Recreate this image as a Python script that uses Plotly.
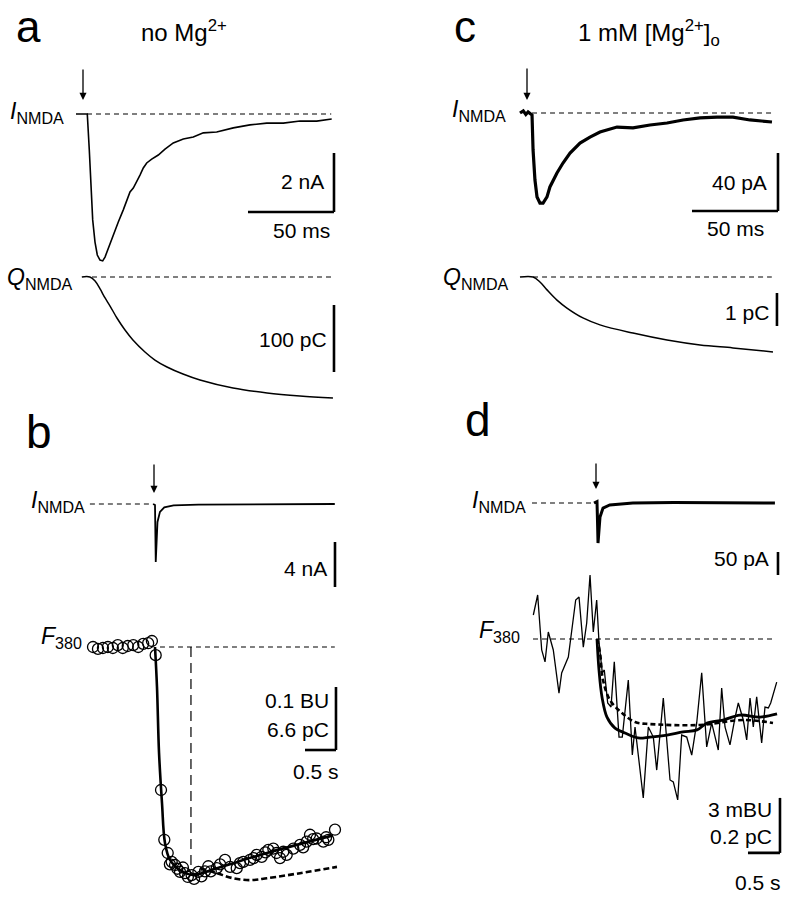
import plotly.graph_objects as go

W, H = 791, 899
FONT = "Liberation Sans, Arial, Helvetica, sans-serif"

# ---------------- Panel a : no Mg2+ (time ms, current nA, charge pC) ----------------
a_I_t = [-6.4, 0.17, 1.34, 2.15, 3.31, 4.65, 5.99, 7.56, 9.13, 10.47, 12.38, 14.36, 16.28,
         18.2, 21.1, 23.08, 25.0, 26.92, 28.9, 30.81, 32.73, 34.71, 37.62, 41.45, 45.35,
         50.17, 55.99, 61.8, 67.62, 75.41, 85.06, 94.77, 104.48, 114.13, 123.84, 133.55, 142.27]
a_I = [0, 0, -1.22, -2.47, -3.59, -4.34, -4.78, -4.95, -4.98, -4.85, -4.54, -4.27, -3.93,
       -3.66, -3.25, -2.92, -2.64, -2.51, -2.31, -2.07, -1.83, -1.66, -1.53, -1.39, -1.19,
       -0.98, -0.85, -0.78, -0.64, -0.61, -0.47, -0.37, -0.31, -0.31, -0.24, -0.24, -0.17]
a_Q_t = [-3.0, 1.7, 4.7, 7.6, 10.5, 13.4, 17.4, 22.1, 26.7, 33.7, 39.5, 46.5, 55.8, 65.7,
         84.9, 104.7, 123.8, 143.0]
a_Q = [0, 0, -6.0, -17.9, -31.3, -43.3, -61.2, -79.1, -94.0, -111.9, -123.9, -134.3,
       -144.8, -153.7, -165.7, -173.1, -177.6, -180.6]

# ---------------- Panel c : 1 mM Mg2+ (time ms, current pA, charge pC) ----------------
c_I_t = [-6.4, -4.5, -3.0, -1.7, 0.6, 1.2, 2.3, 3.5, 5.2, 7.0, 9.3, 11.0, 15.1, 18.6, 22.7,
         28.5, 34.3, 40.1, 50.0, 59.3, 69.2, 79.1, 88.4, 98.3, 108.1, 117.4, 127.3, 140.1]
c_I = [0, 1.5, -1.0, 0.7, -1.4, -25.5, -46.2, -57.9, -62.1, -62.1, -57.9, -51.0, -41.4,
       -34.5, -27.6, -20.7, -16.6, -13.1, -9.7, -10.3, -8.3, -6.9, -4.8, -3.4, -2.8, -2.8,
       -4.8, -6.2]
c_Q_t = [-6.4, 1.2, 5.2, 9.3, 15.1, 20.9, 30.2, 40.1, 59.3, 79.1, 98.3, 117.4, 140.7]
c_Q = [0, 0, -0.15, -0.39, -0.70, -0.94, -1.24, -1.45, -1.70, -1.91, -2.06, -2.15, -2.27]

# ---------------- Panel b : no Mg2+, slow time base (s), nA, BU ----------------
b_I_t = [-0.03, 0.0, 0.012, 0.04, 0.08, 0.15, 0.3, 0.7, 2.9]
b_I = [0, -0.09, -5.16, -1.6, -0.7, -0.3, -0.12, -0.05, 0]
b_F_t = [-1.0, -0.92, -0.84, -0.76, -0.68, -0.60, -0.52, -0.44, -0.35, -0.27, -0.19, -0.11,
         -0.05, 0.011, 0.097, 0.15, 0.205, 0.24, 0.269, 0.323, 0.36, 0.403, 0.45, 0.484,
         0.53, 0.59, 0.63, 0.70, 0.75, 0.806, 0.86, 0.90, 0.995, 1.05, 1.129, 1.21, 1.318,
         1.37, 1.424, 1.532, 1.59, 1.64, 1.721, 1.78, 1.828, 1.908, 1.96, 2.016, 2.07, 2.124,
         2.231, 2.339, 2.39, 2.447, 2.5, 2.55, 2.608, 2.715, 2.76, 2.796, 2.903]
b_F = [0, -0.003, -0.0016, 0, -0.0016, 0.003, -0.0016, 0.0016, 0.003, 0, 0.005, 0.006,
       0.0095, -0.013, -0.227, -0.306, -0.327, -0.345, -0.341, -0.346, -0.352, -0.357,
       -0.35, -0.359, -0.365, -0.362, -0.368, -0.357, -0.364, -0.356, -0.348, -0.356,
       -0.351, -0.345, -0.338, -0.349, -0.351, -0.343, -0.341, -0.338, -0.335, -0.330,
       -0.333, -0.326, -0.322, -0.320, -0.327, -0.335, -0.325, -0.330, -0.320, -0.314,
       -0.318, -0.309, -0.298, -0.305, -0.304, -0.309, -0.302, -0.306, -0.290]
b_fit_t = [0, 0.032, 0.065, 0.113, 0.161, 0.242, 0.403, 0.613, 1.0, 1.806, 2.871]
b_fit = [0, -0.063, -0.168, -0.248, -0.311, -0.338, -0.354, -0.362, -0.351, -0.327, -0.299]
b_Q_t = [0.726, 1.0, 1.258, 1.532, 1.806, 2.339, 2.935]
b_Q = [-0.351, -0.359, -0.367, -0.370, -0.367, -0.359, -0.349]
b_peak_t = 0.58
b_peak_F = -0.346

# ---------------- Panel d : 1 mM Mg2+, slow time base (s), pA, mBU ----------------
d_I_t = [-0.047, 0.0, 0.008, 0.016, 0.047, 0.094, 0.2, 0.56, 1.2, 2.0, 2.78]
d_I = [0, 3.0, -40.0, -87.0, -30.4, -10.9, -4.3, 0, 1.0, 0, 0]
d_F_t = [-0.995, -0.927, -0.864, -0.812, -0.761, -0.683, -0.594, -0.552, -0.448, -0.333,
         -0.281, -0.214, -0.161, -0.109, -0.058, -0.005, 0.031, 0.083, 0.114, 0.167, 0.219,
         0.27, 0.344, 0.395, 0.489, 0.552, 0.594, 0.723, 0.802, 0.88, 0.933, 1.036, 1.141,
         1.192, 1.261, 1.323, 1.402, 1.48, 1.558, 1.636, 1.714, 1.792, 1.895, 1.948, 2.0,
         2.078, 2.156, 2.208, 2.286, 2.339, 2.391, 2.442, 2.495, 2.573, 2.625, 2.677, 2.714,
         2.808]
d_F = [1.31, 2.40, -0.60, -1.25, 0.38, -0.60, -2.95, -1.85, -0.98, 2.13, 2.29, -0.44, 0.87,
       3.49, 0.38, 2.13, -0.16, -1.85, -1.69, -3.49, -3.71, -1.25, -5.35, -5.35, -2.24,
       -6.33, -4.80, -8.67, -4.80, -5.35, -7.15, -3.22, -7.69, -7.80, -8.78, -5.24, -5.35,
       -6.33, -4.58, -1.85, -5.89, -4.58, -6.06, -2.67, -4.80, -5.78, -4.31, -3.49, -4.42,
       -5.51, -3.22, -4.80, -3.16, -5.67, -3.71, -3.76, -3.49, -2.35]
d_fit_t = [0, 0.031, 0.078, 0.156, 0.281, 0.4375, 0.641, 0.828, 1.094, 1.344, 1.5625,
           1.719, 1.969, 2.234, 2.547, 2.813]
d_fit = [0, -1.69, -3.16, -4.26, -4.86, -5.13, -5.40, -5.35, -5.24, -5.07, -4.96, -4.58,
         -4.42, -4.15, -4.26, -4.09]
d_Q_t = [0, 0.047, 0.094, 0.203, 0.391, 0.594, 0.828, 1.609, 2.281, 2.75]
d_Q = [0, -0.76, -2.24, -3.33, -4.04, -4.53, -4.64, -4.69, -4.42, -4.58]

# scale bar sizes
SB = dict(a_t=50, a_i=2, a_q=100, c_t=50, c_i=40, c_q=1, b_t=0.5, b_i=4, b_f=0.1,
          d_t=0.5, d_i=50, d_f=3)

fig = go.Figure()
layout_axes = {}


def make_axes(idx, box, x0, sx, y0, sy):
    px0, px1, py0, py1 = box
    xs = "" if idx == 1 else str(idx)
    layout_axes["xaxis" + xs] = dict(domain=[px0 / W, px1 / W],
                                     range=[(px0 - x0) / sx, (px1 - x0) / sx],
                                     visible=False, fixedrange=True, anchor="y" + xs)
    layout_axes["yaxis" + xs] = dict(domain=[1 - py1 / H, 1 - py0 / H],
                                     range=[(y0 - py1) / sy, (y0 - py0) / sy],
                                     visible=False, fixedrange=True, anchor="x" + xs)
    return ("x" + xs, "y" + xs)


axA_I = make_axes(1, (0, 395, 55, 272), 87, 1.72, 114, 29.5)
axA_Q = make_axes(2, (0, 395, 262, 420), 87, 1.72, 277, 0.67)
axC_I = make_axes(3, (400, 791, 55, 272), 531, 1.72, 113, 1.45)
axC_Q = make_axes(4, (400, 791, 262, 420), 531, 1.72, 277, 33)
axB_I = make_axes(5, (0, 395, 455, 600), 155, 62, 504, 11.25)
axB_F = make_axes(6, (0, 395, 600, 899), 155, 62, 647, 630)
axD_I = make_axes(7, (400, 791, 455, 600), 597, 64, 503, 0.46)
axD_F = make_axes(8, (400, 791, 565, 899), 597, 64, 639, 18.33)


def line(ax, x, y, width=1.3, dash=None, shape="linear"):
    fig.add_trace(go.Scatter(x=x, y=y, mode="lines",
                             line=dict(color="black", width=width, dash=dash, shape=shape),
                             xaxis=ax[0], yaxis=ax[1], hoverinfo="skip", showlegend=False))


shapes = []


def bar(ax, x0, y0, x1, y1, w=2.6):
    shapes.append(dict(type="line", xref=ax[0], yref=ax[1], x0=x0, y0=y0, x1=x1, y1=y1,
                       line=dict(color="black", width=w)))


annotations = []


def text(px, py, s, size=20, xanchor="right", yanchor="middle"):
    annotations.append(dict(x=px / W, y=1 - py / H, xref="paper", yref="paper", text=s,
                            showarrow=False, xanchor=xanchor, yanchor=yanchor,
                            font=dict(family=FONT, size=size, color="black")))


def arrow(px, py, length=31):
    annotations.append(dict(x=px / W, y=1 - py / H, xref="paper", yref="paper", text="",
                            showarrow=True, ax=0, ay=-length, arrowhead=2, arrowsize=1.1,
                            arrowwidth=1.3, arrowcolor="black"))


DASH = "5px,4px"

# ---- panel a ----
line(axA_I, [0, 142], [0, 0], 1.2, DASH)
line(axA_I, a_I_t, a_I, 1.6)
line(axA_Q, [2.9, 143], [0, 0], 1.2, DASH)
line(axA_Q, a_Q_t, a_Q, 1.5, shape="spline")
tx, iy = 143.6, -1.322
bar(axA_I, tx, iy, tx, iy - SB["a_i"])
bar(axA_I, tx - SB["a_t"], iy - SB["a_i"], tx, iy - SB["a_i"])
bar(axA_Q, tx, -41.8, tx, -41.8 - SB["a_q"])

# ---- panel c ----
line(axC_I, [0.6, 140], [0, 0], 1.2, DASH)
line(axC_I, c_I_t, c_I, 3.2)
line(axC_Q, [1.2, 140], [0, 0], 1.2, DASH)
line(axC_Q, c_Q_t, c_Q, 1.5, shape="spline")
tx, iy = 143.6, -27.6
bar(axC_I, tx, iy, tx, iy - SB["c_i"])
bar(axC_I, tx - SB["c_t"], iy - SB["c_i"], tx, iy - SB["c_i"])
bar(axC_Q, 143.0, -0.485, 143.0, -0.485 - SB["c_q"])

# ---- panel b ----
line(axB_I, [-1.05, -0.03], [0, 0], 1.2, DASH)
line(axB_I, b_I_t, b_I, 1.8)
line(axB_F, [0.08, 2.9], [0, 0], 1.2, DASH)
line(axB_F, [b_peak_t, b_peak_t], [0, b_peak_F], 1.2, "10px,6px")
line(axB_F, b_Q_t, b_Q, 2.6, "6px,3px", shape="spline")
fig.add_trace(go.Scatter(x=b_F_t, y=b_F, mode="markers",
                         marker=dict(symbol="circle-open", size=11, color="black",
                                     line=dict(width=1.3, color="black")),
                         xaxis=axB_F[0], yaxis=axB_F[1], hoverinfo="skip", showlegend=False))
line(axB_F, b_fit_t, b_fit, 2.6, shape="spline")
bar(axB_I, 2.903, -3.38, 2.903, -3.38 - SB["b_i"])
bar(axB_F, 2.919, -0.0635, 2.919, -0.0635 - SB["b_f"])
bar(axB_F, 2.919 - SB["b_t"], -0.0635 - SB["b_f"], 2.919, -0.0635 - SB["b_f"])

# ---- panel d ----
line(axD_I, [-1.016, -0.047], [0, 0], 1.2, DASH)
line(axD_I, d_I_t, d_I, 3.0)
line(axD_F, [-1.0, 2.78], [0, 0], 1.2, DASH)
line(axD_F, d_F_t, d_F, 1.3)
line(axD_F, d_Q_t, d_Q, 2.6, "5px,3px", shape="spline")
line(axD_F, d_fit_t, d_fit, 2.8, shape="spline")
bar(axD_I, 2.828, -106.5, 2.828, -106.5 - SB["d_i"])
bar(axD_F, 2.859, -8.67, 2.859, -8.67 - SB["d_f"])
bar(axD_F, 2.859 - SB["d_t"], -8.67 - SB["d_f"], 2.859, -8.67 - SB["d_f"])

# ---- arrows (stimulus) ----
arrow(83, 100, 32)
arrow(527, 100, 33)
arrow(154, 493, 30)
arrow(596, 489, 27)

# ---- panel letters & titles ----
text(28, 26, "a", 44, "center")
text(465, 26, "c", 44, "center")
text(39, 432, "b", 46, "center")
text(478, 420, "d", 46, "center")
text(184, 31, "no Mg<sup>2+</sup>", 24, "center")
text(649, 33, "1 mM [Mg<sup>2+</sup>]<sub>o</sub>", 24, "center")

# ---- trace labels ----
LBL = 23
text(66, 112, "<i>I</i><sub>NMDA</sub>", LBL)
text(75, 279, "<i>Q</i><sub>NMDA</sub>", LBL)
text(508, 111, "<i>I</i><sub>NMDA</sub>", LBL)
text(511, 279, "<i>Q</i><sub>NMDA</sub>", LBL)
text(87, 502, "<i>I</i><sub>NMDA</sub>", LBL)
text(84, 637, "<i>F</i><sub>380</sub>", LBL)
text(528, 501, "<i>I</i><sub>NMDA</sub>", LBL)
text(522, 631, "<i>F</i><sub>380</sub>", LBL)

# ---- scale bar labels ----
S = 21
text(326, 181, "2 nA", S)
text(332, 230, "50 ms", S)
text(329, 340, "100 pC", S)
text(769, 182, "40 pA", S)
text(766, 229, "50 ms", S)
text(771, 312, "1 pC", S)
text(329, 568, "4 nA", S)
text(331, 700, "0.1 BU", S)
text(331, 729, "6.6 pC", S)
text(341, 771, "0.5 s", S)
text(771, 558, "50 pA", S)
text(774, 809, "3 mBU", S)
text(774, 836, "0.2 pC", S)
text(783, 882, "0.5 s", S)

fig.update_layout(width=W, height=H, margin=dict(l=0, r=0, t=0, b=0), autosize=False,
                  paper_bgcolor="white", plot_bgcolor="rgba(0,0,0,0)", showlegend=False,
                  shapes=shapes, annotations=annotations, font=dict(family=FONT),
                  **layout_axes)
fig.write_html("out.html", config={"displayModeBar": False},
               post_script="document.body.style.margin='0';document.body.style.padding='0';")
